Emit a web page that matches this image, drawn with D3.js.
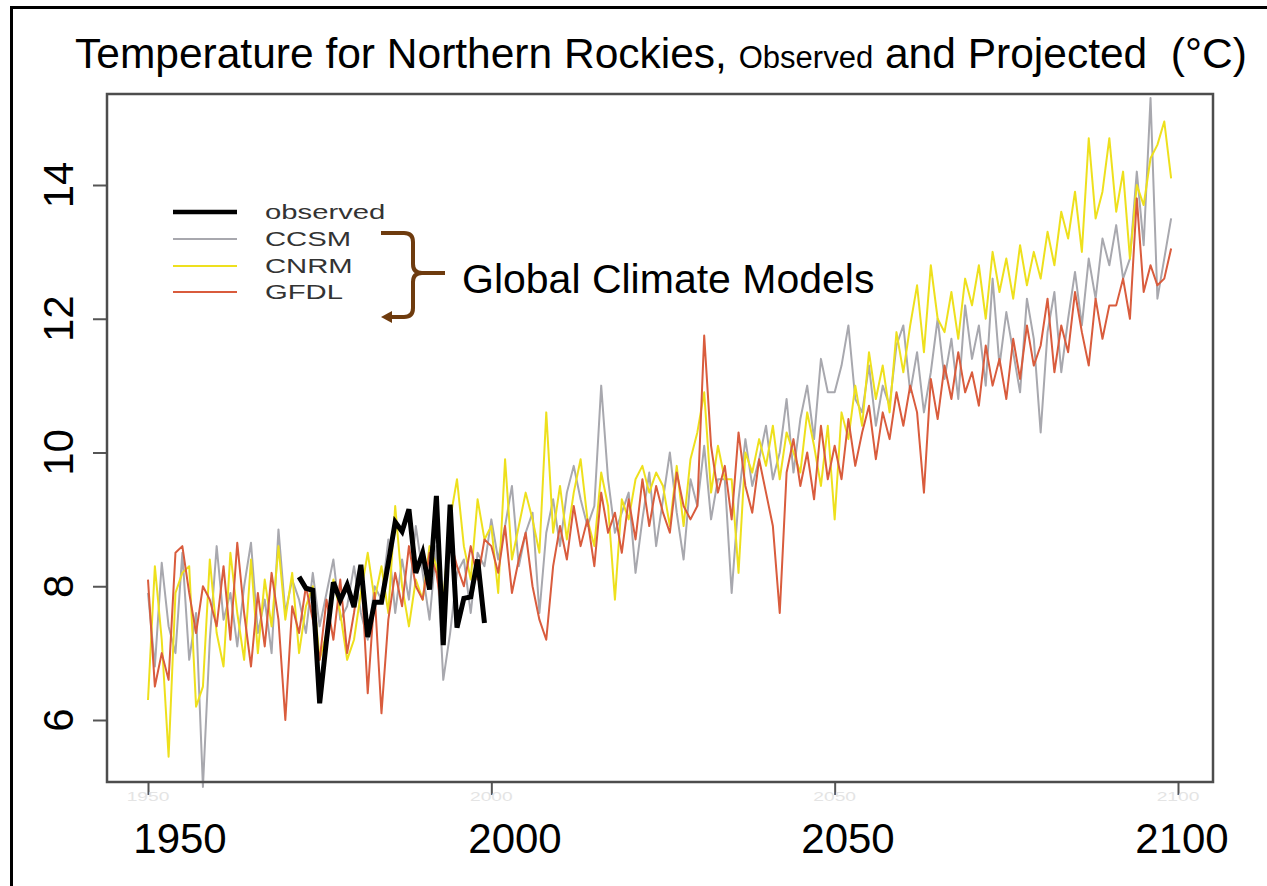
<!DOCTYPE html>
<html>
<head>
<meta charset="utf-8">
<script src="https://cdn.jsdelivr.net/npm/d3@7"></script>
<style>
  body { margin: 0; background: #fff; }
  svg { display: block; font-family: Arial, "Liberation Sans", sans-serif; }
</style>
</head>
<body>
<script>
// Annual mean temperature (°C), Northern Rockies
const modelStartYear = 1950;
const observedStartYear = 1972;

const ccsm = [
  7.9, 6.8, 8.35, 7.4, 7.0, 8.5, 6.9, 7.6, 5.0, 7.2,
  8.6, 7.5, 7.9, 7.1, 8.0, 8.65, 7.3, 7.8, 7.0, 8.85,
  7.6, 8.1, 7.8, 7.3, 8.2, 7.4, 7.9, 8.4, 7.5, 7.7,
  8.3, 7.6, 7.2, 8.0, 7.8, 8.7, 7.6, 8.4, 7.8, 8.9,
  8.2, 7.5, 8.6, 6.6, 7.3, 8.2, 8.4, 7.6, 8.5, 8.3,
  9.0, 8.4, 8.9, 9.5, 8.3, 8.8, 9.1, 7.6, 8.8, 9.3,
  8.6, 9.4, 9.8, 9.3, 8.9, 9.2, 11.0, 9.6, 8.8, 9.1,
  9.4, 8.2, 9.0, 9.7, 8.6, 9.3, 10.0, 9.1, 8.4, 9.6,
  9.2, 10.1, 9.0, 9.6, 9.6, 7.9, 9.3, 10.2, 9.5, 9.9,
  10.4, 9.6, 10.0, 10.8, 9.7, 10.5, 11.0, 10.2, 11.4, 10.9,
  10.9, 11.3, 11.9, 10.8, 10.6, 11.3, 10.4, 11.0, 10.7, 11.6,
  11.9, 10.9, 11.5, 10.6, 11.2, 12.0, 11.1, 11.7, 10.8, 12.2,
  11.4, 11.9, 11.0, 12.6, 11.3, 12.1, 11.5, 10.9, 12.3, 11.7,
  10.3, 11.8, 12.4, 11.2, 12.0, 12.7, 11.9, 12.9, 12.3, 13.2,
  12.8, 13.4, 12.6, 12.9, 14.2, 13.1, 15.3, 12.3, 12.9, 13.5
];

const cnrm = [
  6.3, 8.3, 7.2, 5.45, 7.9, 8.2, 8.3, 6.2, 6.5, 8.4,
  7.3, 6.8, 8.5, 7.6, 6.9, 8.4, 7.0, 8.1, 7.4, 8.6,
  7.5, 8.2, 7.0, 7.7, 8.0, 6.9, 7.3, 8.1, 7.6, 6.9,
  7.2, 7.9, 8.5, 7.8, 8.3, 7.6, 9.2, 8.0, 7.4, 8.1,
  7.8, 8.6, 8.3, 7.8, 9.0, 9.6, 8.6, 8.1, 9.3, 8.7,
  8.9, 7.9, 9.9, 8.4, 8.9, 9.4, 9.0, 8.5, 10.6, 8.8,
  9.5, 8.7, 9.4, 9.9, 9.0, 8.6, 9.7, 9.2, 7.8, 9.3,
  9.0, 9.6, 9.8, 9.4, 9.7, 9.5, 8.9, 9.8, 8.9, 9.9,
  10.3, 10.9, 9.4, 10.1, 9.6, 9.6, 8.2, 10.0, 9.7, 10.2,
  9.8, 10.4, 9.6, 10.3, 10.0, 9.7, 10.6, 10.1, 9.5, 10.4,
  9.0, 10.6, 10.2, 11.0, 10.4, 11.5, 10.8, 11.3, 10.6, 11.8,
  11.2, 11.9, 12.5, 11.5, 12.8, 12.0, 11.8, 12.4, 11.7, 12.6,
  12.2, 12.8, 12.0, 13.0, 12.4, 12.9, 12.3, 13.1, 12.5, 13.0,
  12.6, 13.3, 12.8, 13.6, 13.2, 13.9, 13.0, 14.7, 13.5, 13.9,
  14.7, 13.6, 14.2, 12.9, 14.0, 13.7, 14.4, 14.6, 14.95, 14.1
];

const gfdl = [
  8.1, 6.5, 7.0, 6.6, 8.5, 8.6, 7.9, 7.3, 8.0, 7.8,
  7.4, 8.3, 7.2, 8.65, 7.6, 6.8, 7.9, 7.1, 8.2, 7.5,
  6.0, 7.7, 7.3, 8.0, 7.5, 6.9, 7.8, 7.2, 8.1, 7.0,
  7.6, 8.3, 6.4, 7.9, 6.1, 7.5, 8.2, 7.7, 8.6, 8.0,
  7.8, 8.5, 8.2, 7.5, 8.7, 8.3, 8.0, 8.6, 8.1, 8.7,
  8.6, 8.2, 8.9, 7.9, 8.4, 8.8, 8.0, 7.5, 7.2, 8.3,
  8.9, 8.4, 9.2, 8.6, 9.0, 8.3, 9.4, 8.8, 9.1, 8.5,
  9.3, 8.7, 9.6, 8.9, 9.5, 9.1, 8.8, 9.7, 9.2, 9.0,
  9.2, 11.75, 10.1, 9.4, 9.8, 9.0, 10.3, 9.5, 9.1, 9.9,
  9.4, 8.9, 7.6, 9.7, 10.2, 9.5, 10.0, 9.3, 10.4, 9.6,
  10.1, 9.6, 10.5, 9.8, 10.3, 10.7, 9.9, 10.6, 10.2, 10.9,
  10.4, 11.0, 10.6, 9.4, 11.1, 10.5, 11.3, 10.8, 11.5, 10.9,
  11.2, 10.7, 11.6, 11.0, 11.4, 10.8, 11.7, 11.1, 11.9, 11.3,
  11.6, 12.3, 11.2, 11.9, 11.5, 12.4, 11.8, 11.3, 12.3, 11.7,
  12.2, 12.2, 12.6, 12.0, 13.8, 12.4, 12.8, 12.5, 12.6, 13.05
];

const observed = [
  8.14, 7.97, 7.94, 6.25, 7.2, 8.06, 7.79, 8.02, 7.69, 8.32,
  7.24, 7.76, 7.76, 8.35, 8.96, 8.82, 9.15, 8.2, 8.5, 7.95,
  9.35, 7.12, 9.22, 7.38, 7.82, 7.84, 8.4, 7.45
];

const xTickYears = [1950, 2000, 2050, 2100];
const yTickValues = [6, 8, 10, 12, 14];
const seriesNames = ["observed", "CCSM", "CNRM", "GFDL"];
const seriesColors = ["#000000", "#a8a8ae", "#eee01e", "#d95b3c"];
const annotationText = "Global Climate Models";

const W = 1267, H = 886;
const svg = d3.select("body").append("svg").attr("width", W).attr("height", H);

// plotting frame
const frame = { left: 107, top: 94, right: 1213, bottom: 782 };
const x = d3.scaleLinear().domain([1950, 2100]).range([148, 1178]);
const y = d3.scaleLinear().domain([6, 14]).range([720, 185]);

// outer border (top and left edges)
svg.append("path")
  .attr("d", `M11.5,${H} L11.5,7.5 L${W},7.5`)
  .attr("fill", "none").attr("stroke", "#000").attr("stroke-width", 3);

// title
const title = svg.append("text").attr("x", 75).attr("y", 68).attr("fill", "#000");
title.append("tspan").attr("font-size", 42.5).text("Temperature for Northern Rockies, ");
title.append("tspan").attr("font-size", 31).text("Observed");
title.append("tspan").attr("font-size", 42.5).text(" and Projected\u00a0 (°C)");

// series lines
const line = d3.line().x(d => x(d[0])).y(d => y(d[1]));
const toPairs = (vals, start) => vals.map((v, i) => [start + i, v]);

const soft = svg.append("defs").append("filter").attr("id", "soft");
soft.append("feGaussianBlur").attr("stdDeviation", 0.45);

const lines = svg.append("g").attr("filter", "url(#soft)");
[[ccsm, 1], [cnrm, 2], [gfdl, 3]].forEach(([vals, k]) => {
  lines.append("path")
    .attr("d", line(toPairs(vals, modelStartYear)))
    .attr("fill", "none")
    .attr("stroke", seriesColors[k])
    .attr("stroke-width", 2)
    .attr("stroke-linejoin", "round");
});
lines.append("path")
  .attr("d", line(toPairs(observed, observedStartYear)))
  .attr("fill", "none")
  .attr("stroke", seriesColors[0])
  .attr("stroke-width", 5)
  .attr("stroke-linejoin", "miter");

// axes ticks
const yAxis = svg.append("g").attr("transform", `translate(${frame.left},0)`)
  .call(d3.axisLeft(y).tickValues(yTickValues).tickSize(14).tickFormat(""));
const xAxis = svg.append("g").attr("transform", `translate(0,${frame.bottom})`)
  .call(d3.axisBottom(x).tickValues(xTickYears).tickSize(13).tickFormat(""));
[yAxis, xAxis].forEach(g => {
  g.select(".domain").remove();
  g.selectAll("line").attr("stroke", "#555").attr("stroke-width", 2);
});

// faint original tick labels
svg.append("g").selectAll("text").data(xTickYears).join("text")
  .attr("transform", d => `translate(${x(d)},801) scale(1.6,1)`)
  .attr("text-anchor", "middle")
  .attr("font-size", 12)
  .attr("fill", "#e4e4e4")
  .text(d => d);

// plot box
svg.append("rect")
  .attr("x", frame.left).attr("y", frame.top)
  .attr("width", frame.right - frame.left).attr("height", frame.bottom - frame.top)
  .attr("fill", "none").attr("stroke", "#4d4d4d").attr("stroke-width", 2.5);

// large tick labels
const xLabelCenters = [180, 515, 848, 1182];
svg.append("g").selectAll("text").data(xTickYears).join("text")
  .attr("x", (d, i) => xLabelCenters[i]).attr("y", 853)
  .attr("text-anchor", "middle").attr("font-size", 42).attr("fill", "#000")
  .text(d => d);

svg.append("g").selectAll("text").data(yTickValues).join("text")
  .attr("transform", d => `translate(73,${y(d)}) rotate(-90)`)
  .attr("text-anchor", "middle").attr("font-size", 42).attr("fill", "#000")
  .text(d => d);

// legend
const legendRows = [212, 239, 266, 292];
const legend = svg.append("g");
seriesNames.forEach((name, i) => {
  legend.append("line")
    .attr("x1", 173).attr("x2", 237)
    .attr("y1", legendRows[i]).attr("y2", legendRows[i])
    .attr("stroke", i === 0 ? "#000" : seriesColors[i])
    .attr("stroke-width", i === 0 ? 4.5 : 2);
  legend.append("text")
    .attr("transform", `translate(265,${legendRows[i] + 7}) scale(1.5,1)`)
    .attr("font-size", 19.5).attr("fill", "#333")
    .text(name);
});

// label panel with brace
svg.append("rect").attr("x", 452).attr("y", 243).attr("width", 454).attr("height", 69).attr("fill", "#fff");
const brown = "#6e3b0e";
svg.append("path")
  .attr("d", "M381,233 L404,233 Q413,233 413,242 L413,264 Q413,273 422,273 L445,273 M422,273 Q413,273 413,282 L413,308 Q413,317 404,317 L390,317")
  .attr("fill", "none").attr("stroke", brown).attr("stroke-width", 4);
svg.append("path").attr("d", "M381,317 L392,311 L392,323 Z").attr("fill", brown);
svg.append("text").attr("x", 462).attr("y", 293).attr("font-size", 41).attr("fill", "#000").text(annotationText);
</script>
</body>
</html>
